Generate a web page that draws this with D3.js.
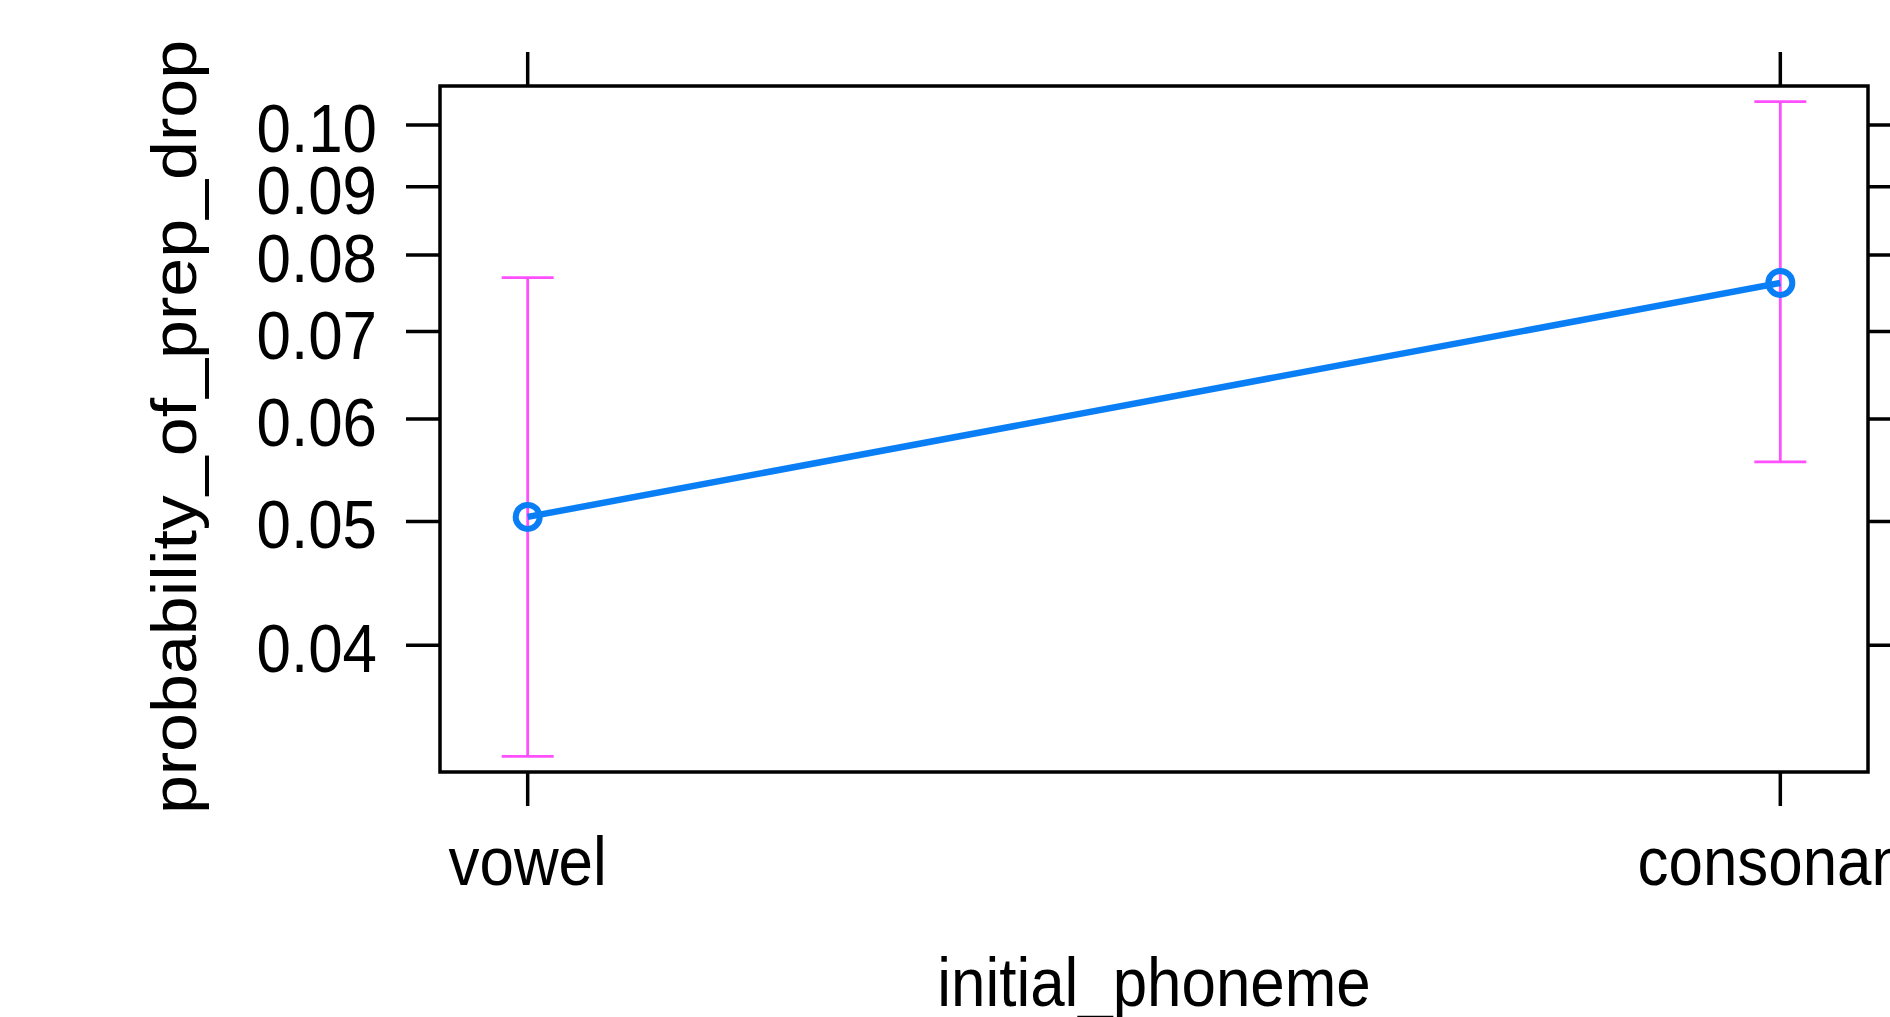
<!DOCTYPE html>
<html>
<head>
<meta charset="utf-8">
<script src="https://cdn.jsdelivr.net/npm/d3@7"></script>
<style>
  body { margin: 0; background: #fff; overflow: hidden; }
  text { font-family: "Liberation Sans", Arial, Helvetica, sans-serif; fill: #000; }
</style>
</head>
<body>
<svg id="chart" width="1890" height="1017"></svg>
<script>
// effect of initial_phoneme on probability_of_prep_drop
let categories = ["vowel", "consonant"]
let fit = [0.0504, 0.0762]
let lower = [0.0327, 0.0556]
let upper = [0.0769, 0.1040]
let yTicks = [0.04, 0.05, 0.06, 0.07, 0.08, 0.09, 0.10]

let svg = d3.select("#chart")

let boxLeft = 440, boxRight = 1868, boxTop = 86, boxBottom = 772
let fontSize = 68
let squeeze = 0.91   // the reference text looks a bit narrow

let logit = p => Math.log(p / (1 - p))

let x = d3.scalePoint()
  .domain(categories)
  .range([boxLeft, boxRight])
  .padding(0.07)

// lattice-style logit axis, padded a little beyond the intervals
let lo = logit(d3.min(lower)), hi = logit(d3.max(upper))
let pad = (hi - lo) * 0.024
let y = d3.scaleLinear()
  .domain([lo - pad, hi + pad])
  .range([boxBottom, boxTop])
let yp = p => y(logit(p))

function label(g, tx, ty, str, anchor, rot, size) {
  g.append("text")
    .attr("transform", "translate(" + tx + "," + ty + ") scale(" + squeeze + ",1)" + (rot ? " rotate(" + rot + ")" : ""))
    .attr("text-anchor", anchor)
    .style("font-size", (size || fontSize) + "px")
    .text(str)
}

// ticks on all four sides
let tickLen = 34
let ticks = svg.append("g").attr("stroke", "#000").attr("stroke-width", 3.5)
categories.forEach(c => {
  ticks.append("line").attr("x1", x(c)).attr("x2", x(c)).attr("y1", boxTop).attr("y2", boxTop - tickLen)
  ticks.append("line").attr("x1", x(c)).attr("x2", x(c)).attr("y1", boxBottom).attr("y2", boxBottom + tickLen)
})
yTicks.forEach(t => {
  ticks.append("line").attr("x1", boxLeft).attr("x2", boxLeft - tickLen).attr("y1", yp(t)).attr("y2", yp(t))
  ticks.append("line").attr("x1", boxRight).attr("x2", boxRight + tickLen).attr("y1", yp(t)).attr("y2", yp(t))
})

// tick labels
let labels = svg.append("g")
yTicks.forEach(t => label(labels, boxLeft - 63, yp(t) + 27, d3.format(".2f")(t), "end"))
categories.forEach(c => label(labels, x(c), 885, c, "middle"))

// axis titles
label(labels, (boxLeft + boxRight) / 2, 1006, "initial_phoneme", "middle")
label(labels, 196, (boxTop + boxBottom) / 2 - 2, "probability_of_prep_drop", "middle", -90, 70)

// panel box
svg.append("rect")
  .attr("x", boxLeft).attr("y", boxTop)
  .attr("width", boxRight - boxLeft).attr("height", boxBottom - boxTop)
  .attr("fill", "none").attr("stroke", "#000").attr("stroke-width", 3.5)

// confidence intervals
let ci = svg.append("g").attr("stroke", "#ff50ff").attr("stroke-width", 2.8)
categories.forEach((c, i) => {
  ci.append("line").attr("x1", x(c)).attr("x2", x(c)).attr("y1", yp(lower[i])).attr("y2", yp(upper[i]))
  ci.append("line").attr("x1", x(c) - 26).attr("x2", x(c) + 26).attr("y1", yp(lower[i])).attr("y2", yp(lower[i]))
  ci.append("line").attr("x1", x(c) - 26).attr("x2", x(c) + 26).attr("y1", yp(upper[i])).attr("y2", yp(upper[i]))
})

// fitted line and points
let pts = categories.map((c, i) => [x(c), yp(fit[i])])
svg.append("path")
  .attr("d", d3.line()(pts))
  .attr("fill", "none")
  .attr("stroke", "#0a7ff5")
  .attr("stroke-width", 6.5)

svg.selectAll(".pt")
  .data(pts)
  .join("circle")
  .attr("class", "pt")
  .attr("cx", d => d[0])
  .attr("cy", d => d[1])
  .attr("r", 12)
  .attr("fill", "none")
  .attr("stroke", "#0a7ff5")
  .attr("stroke-width", 6)
</script>
</body>
</html>
